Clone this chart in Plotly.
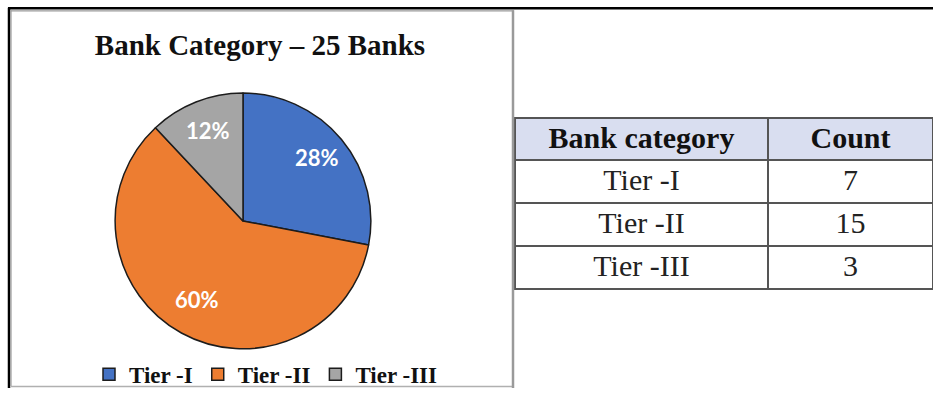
import math
import plotly.graph_objects as go

# Bank categories and how many banks fall into each
categories = ["Tier -I", "Tier -II", "Tier -III"]
counts = [7, 15, 3]
slice_colors = ["#4472C4", "#ED7D31", "#A5A5A5"]

table_header = ["Bank category", "Count"]

W, H = 933, 396
SERIF = "Liberation Serif, Times New Roman, serif"


def px_x(v):
    return v / W


def px_y(v):
    return 1 - v / H


fig = go.Figure()

# Pie: share of each tier, clockwise from 12 o'clock
cx, cy, r = 243, 222, 129
fig.add_trace(go.Pie(
    labels=categories,
    values=counts,
    sort=False,
    direction="clockwise",
    rotation=0,
    marker=dict(colors=slice_colors, line=dict(color="#1c1c1c", width=1.5)),
    textinfo="none",
    domain=dict(x=[px_x(cx - r - 2), px_x(cx + r + 2)],
                y=[px_y(cy + r + 5), px_y(cy - r + 2)]),
    hoverinfo="label+value+percent",
    showlegend=True,
))

# Percentage labels placed inside each slice, along the slice's mid-angle
total = sum(counts)
annotations = []
start = 0.0
for n in counts:
    share = n / total
    mid = (start + share / 2) * 2 * math.pi
    start += share
    lx = cx + 0.74 * r * math.sin(mid)
    ly = cy - 0.74 * r * math.cos(mid)
    annotations.append(dict(
        text=f"{share:.0%}", x=px_x(lx), y=px_y(ly), xref="paper", yref="paper",
        showarrow=False, xanchor="center", yanchor="middle",
        font=dict(family="Lato, Carlito, Calibri, sans-serif", size=22,
                  color="white", weight="bold"),
    ))

# Summary table beside the pie
fig.add_trace(go.Table(
    domain=dict(x=[px_x(515), 1.0], y=[0, px_y(120)]),
    columnwidth=[253, 165],
    header=dict(
        values=table_header,
        fill_color="#D9DEF0",
        line=dict(color="#555555", width=2),
        align="center",
        height=42,
        font=dict(family=SERIF, size=30, color="#111111", weight="bold"),
    ),
    cells=dict(
        values=[categories, counts],
        fill_color="white",
        line=dict(color="#555555", width=2),
        align="center",
        height=43,
        font=dict(family=SERIF, size=30, color="#222222"),
    ),
))

# Frame lines around the chart panel
shapes = [
    # outer black frame (left and top)
    dict(type="line", x0=px_x(9), x1=px_x(9), y0=px_y(8), y1=0,
         line=dict(color="black", width=2.5)),
    dict(type="line", x0=px_x(8), x1=1, y0=px_y(8.5), y1=px_y(8.5),
         line=dict(color="black", width=2.5)),
    # grey chart box
    dict(type="line", x0=px_x(11), x1=px_x(11), y0=px_y(10.5), y1=px_y(394),
         line=dict(color="#9a9a9a", width=1.2)),
    dict(type="line", x0=px_x(10.5), x1=px_x(514), y0=px_y(11), y1=px_y(11),
         line=dict(color="#9a9a9a", width=1.2)),
    dict(type="line", x0=px_x(11), x1=px_x(514), y0=px_y(394.5), y1=px_y(394.5),
         line=dict(color="#b0b0b0", width=1.5)),
    dict(type="line", x0=px_x(513), x1=px_x(513), y0=px_y(10.5), y1=0,
         line=dict(color="#9a9a9a", width=2.5)),
]

fig.update_layout(
    width=W,
    height=H,
    margin=dict(l=0, r=0, t=0, b=0),
    paper_bgcolor="white",
    plot_bgcolor="white",
    title=dict(
        text="Bank Category – 25 Banks",
        x=px_x(260), xanchor="center",
        y=px_y(45), yanchor="middle",
        font=dict(family=SERIF, size=29, color="#111111", weight="bold"),
    ),
    legend=dict(
        orientation="h",
        x=px_x(266), xanchor="center",
        y=px_y(382), yanchor="middle",
        font=dict(family=SERIF, size=23, color="#111111", weight="bold"),
        bgcolor="rgba(0,0,0,0)",
        itemclick=False,
    ),
    annotations=annotations,
    shapes=shapes,
)

fig.write_html("out.html")
